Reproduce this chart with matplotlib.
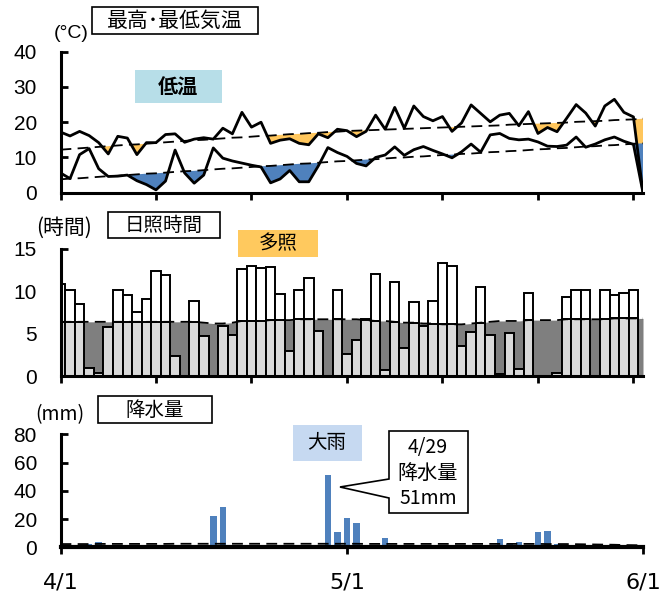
import matplotlib
matplotlib.use("Agg")
import matplotlib.pyplot as plt
from matplotlib.patches import Rectangle, Polygon
from matplotlib.transforms import Affine2D
import numpy as np

plt.rcParams['font.family'] = ['Liberation Sans', 'Noto Sans CJK JP']
JP = ['Noto Sans CJK JP', 'DejaVu Sans']

# 4/1 = day 0 ... 6/1 = day 61
days = np.arange(62)

# 最高気温 / 平年値
tmax = [17.2, 16.1, 17.4, 16.2, 14.2, 11.0, 16.0, 15.5, 10.8, 14.2,
        14.2, 16.5, 16.7, 14.3, 15.2, 15.6, 15.2, 18.3, 16.7, 22.8,
        18.6, 20.0, 14.0, 14.9, 15.3, 14.0, 13.6, 16.7, 15.6, 18.0,
        17.6, 15.9, 17.4, 22.0, 18.0, 24.2, 18.3, 24.6, 21.6, 20.4,
        21.6, 17.4, 19.8, 24.9, 22.5, 20.1, 22.0, 22.5, 19.0, 23.0,
        16.8, 18.5, 17.3, 21.1, 25.0, 22.6, 18.9, 24.6, 26.5, 22.8,
        21.5, 0.0]
tmax_norm = [12.2, 12.4, 12.6, 12.8, 13.0, 13.2, 13.4, 13.6, 13.7, 13.9,
             14.1, 14.3, 14.5, 14.7, 14.9, 15.0, 15.2, 15.4, 15.6, 15.7,
             15.9, 16.1, 16.2, 16.4, 16.6, 16.7, 16.9, 17.0, 17.2, 17.3,
             17.5, 17.6, 17.7, 17.8, 17.9, 18.0, 18.1, 18.2, 18.3, 18.4,
             18.5, 18.6, 18.7, 18.8, 18.9, 19.0, 19.1, 19.3, 19.4, 19.5,
             19.6, 19.7, 19.8, 19.9, 20.1, 20.2, 20.3, 20.4, 20.6, 20.7,
             20.8, 21.0]

# 最低気温 / 平年値
tmin = [5.6, 4.0, 10.8, 12.5, 6.8, 4.6, 4.7, 5.0, 3.4, 2.3,
        0.8, 3.3, 12.1, 5.6, 2.7, 5.0, 12.7, 9.8, 9.0, 8.4,
        7.8, 7.3, 2.8, 3.9, 6.3, 3.1, 3.1, 7.6, 12.8, 11.4,
        10.3, 8.3, 7.6, 10.0, 10.7, 13.0, 10.6, 12.2, 13.1, 12.0,
        11.0, 9.9, 11.6, 13.8, 11.5, 16.4, 16.8, 15.4, 15.0, 15.2,
        14.4, 13.2, 13.1, 13.5, 15.8, 12.9, 13.8, 15.0, 15.8, 14.6,
        13.7, 0.0]
tmin_norm = [3.8, 4.0, 4.1, 4.3, 4.5, 4.7, 4.8, 5.0, 5.2, 5.4,
             5.5, 5.7, 5.9, 6.1, 6.2, 6.4, 6.6, 6.8, 6.9, 7.1,
             7.3, 7.5, 7.6, 7.8, 8.0, 8.2, 8.3, 8.5, 8.7, 8.9,
             9.0, 9.2, 9.4, 9.5, 9.7, 9.9, 10.0, 10.2, 10.3, 10.5,
             10.7, 10.8, 11.0, 11.1, 11.3, 11.5, 11.6, 11.8, 11.9, 12.1,
             12.3, 12.4, 12.6, 12.7, 12.9, 13.1, 13.2, 13.4, 13.5, 13.7,
             13.9, 14.0]

# 日照時間 (4/1-5/31) / 平年値 (4/1-6/1)
sun = [10.9, 10.2, 8.5, 1.0, 0.4, 5.8, 10.2, 9.6, 7.6, 9.1,
       12.4, 11.9, 2.4, 0.0, 8.8, 4.7, 0.0, 5.9, 4.9, 12.6,
       13.0, 12.7, 12.9, 9.7, 2.9, 10.1, 11.6, 5.3, 0.0, 10.1,
       2.6, 4.3, 6.7, 12.0, 0.7, 11.1, 3.3, 8.7, 5.9, 8.9,
       13.3, 13.0, 3.5, 5.2, 10.5, 4.8, 0.2, 5.1, 0.8, 9.8,
       0.0, 0.0, 0.3, 9.3, 10.2, 10.1, 0.0, 10.1, 9.6, 9.8,
       10.1]
sun_norm = [6.4, 6.4, 6.4, 6.4, 6.4, 6.4, 6.4, 6.4, 6.4, 6.4,
            6.4, 6.4, 6.4, 6.4, 6.4, 6.3, 6.2, 6.2, 6.3, 6.5,
            6.5, 6.5, 6.6, 6.6, 6.6, 6.7, 6.7, 6.7, 6.7, 6.7,
            6.7, 6.7, 6.6, 6.5, 6.5, 6.4, 6.3, 6.3, 6.2, 6.2,
            6.1, 6.1, 6.1, 6.2, 6.3, 6.4, 6.5, 6.5, 6.5, 6.6,
            6.6, 6.6, 6.6, 6.7, 6.7, 6.7, 6.7, 6.7, 6.8, 6.8,
            6.8, 6.8]

# 降水量 / 平年値
prcp = [0, 0, 0, 2.3, 3.5, 0, 0, 0, 0, 0,
        0, 0, 0, 0, 0, 0, 22.2, 28.4, 0, 0,
        0, 0, 0, 0, 0, 0, 0, 0, 51.0, 11.1,
        20.5, 17.5, 0, 0, 6.4, 0, 0, 0, 0, 0,
        0, 0, 0, 0, 0, 1.0, 5.7, 2.3, 4.0, 0,
        11.1, 11.6, 2.0, 0, 1.0, 0, 1.0, 0, 0, 0,
        0, 0]
prcp_norm = [2.3, 2.3, 2.3, 2.3, 2.4, 2.4, 2.4, 2.4, 2.4, 2.4,
             2.4, 2.4, 2.5, 2.5, 2.5, 2.5, 2.5, 2.5, 2.5, 2.5,
             2.5, 2.5, 2.5, 2.5, 2.5, 2.5, 2.5, 2.5, 2.5, 2.5,
             2.5, 2.5, 2.4, 2.4, 2.4, 2.4, 2.4, 2.4, 2.4, 2.4,
             2.4, 2.4, 2.4, 2.4, 2.4, 2.4, 2.4, 2.4, 2.4, 2.4,
             2.4, 2.3, 2.3, 2.3, 2.2, 2.1, 2.0, 1.9, 1.8, 1.6,
             1.5, 1.4]

date_ticks = [0, 30, 61]
date_labels = ['4/1', '5/1', '6/1']

W, H = 670, 592
fig = plt.figure(figsize=(W / 100, H / 100), dpi=100)
px = Affine2D().scale(1 / W, -1 / H).translate(0, 1) + fig.transFigure


def add_ax(x0, y0, x1, y1):
    return fig.add_axes([x0 / W, 1 - y1 / H, (x1 - x0) / W, (y1 - y0) / H])


def style(ax):
    for s in ['top', 'right']:
        ax.spines[s].set_visible(False)
    for s in ['left', 'bottom']:
        ax.spines[s].set_linewidth(2.2)
        ax.spines[s].set_zorder(5)
    ax.tick_params(axis='y', direction='in', length=5, width=2, labelsize=15, pad=17)
    ax.tick_params(axis='x', direction='out', length=5, width=2)
    ax.set_xlim(0, 61)


def box(x0, y0, x1, y1, fc, ec='none'):
    fig.patches.append(Rectangle((x0, y0), x1 - x0, y1 - y0, transform=px,
                                 fc=fc, ec=ec, lw=1.2))


def label(x, y, s, size=14, **kw):
    fig.text(x, y, s, transform=px, ha='center', va='center',
             family=JP, fontsize=size, **kw)


dash = (0, (6, 3.5))

# --- 最高・最低気温 ---
ax1 = add_ax(60.5, 51.7, 643, 192.7)
style(ax1)
tx, txn = np.array(tmax), np.array(tmax_norm)
tn, tnn = np.array(tmin), np.array(tmin_norm)
ax1.fill_between(days, tx, txn, where=tx < txn, interpolate=True,
                 color='#ffc65c', lw=0, zorder=1)
ax1.fill_between(days, tn, tnn, where=tn < tnn, interpolate=True,
                 color='#4f81bd', lw=0, zorder=1)
ax1.plot(days, txn, color='black', lw=1.3, ls=dash, zorder=2)
ax1.plot(days, tnn, color='black', lw=1.3, ls=dash, zorder=2)
ax1.plot(days, tx, color='black', lw=2, zorder=3)
ax1.plot(days, tn, color='black', lw=2, zorder=3)
ax1.set_ylim(0, 40)
ax1.set_yticks([0, 10, 20, 30, 40])
ax1.set_xticks(range(0, 61, 10))
ax1.set_xticklabels([])

# --- 日照時間 ---
ax2 = add_ax(60.5, 249, 643, 376)
style(ax2)
sn = np.array(sun_norm)
ax2.fill_between(days, 0, sn, color='#7f7f7f', lw=0, zorder=1)
bd = days[:len(sun)]
ax2.bar(bd, sun, width=1, color='white', edgecolor='black', lw=1.4, zorder=2)
ax2.bar(bd, np.minimum(sun, sn[:len(sun)]), width=1, color='#d9d9d9',
        edgecolor='black', lw=1.4, zorder=2)
ax2.plot(days, sn, color='black', lw=1.3, ls=dash, zorder=3)
ax2.set_ylim(0, 15)
ax2.set_yticks([0, 5, 10, 15])
ax2.set_xticks(range(0, 61, 10))
ax2.set_xticklabels([])

# --- 降水量 ---
ax3 = add_ax(60.5, 434.3, 643, 547.3)
style(ax3)
ax3.spines['bottom'].set_linewidth(3)
ax3.bar(days, prcp, width=0.68, color='#4f81bd', lw=0, zorder=2)
ax3.plot(days, prcp_norm, color='black', lw=1.3, ls=dash, zorder=3)
ax3.set_ylim(0, 80)
ax3.set_yticks([0, 20, 40, 60, 80])
ax3.set_xticks(date_ticks)
ax3.set_xticklabels(date_labels, family=['DejaVu Sans'], fontsize=16)
ax3.tick_params(axis='x', pad=13)

# --- labels ---
fig.text(71, 34, '(°C)', transform=px, ha='center', va='center', fontsize=14)
box(92, 7, 258, 34, 'white', 'black')
label(175, 21, '最高･最低気温', size=15)
box(135, 70, 222, 103, '#b7dee8')
label(178, 87, '低温', size=14.5, weight='bold')

label(64, 228, '(時間)', size=15)
box(108, 212, 220, 238, 'white', 'black')
label(164, 225, '日照時間', size=14)
box(238, 230, 318, 257, '#ffc95e')
label(278, 244, '多照', size=14)

label(60, 415, '(mm)', size=14)
box(98, 396, 212, 423, 'white', 'black')
label(155, 410, '降水量', size=14)
box(293, 425, 362, 461, '#c6d9f1')
label(327, 443, '大雨', size=14)

fig.patches.append(Polygon([(389, 431), (468, 431), (468, 513), (389, 513),
                            (389, 498), (340, 487), (389, 479)], closed=True,
                           transform=px, fc='white', ec='black', lw=1.2))
label(428, 447, '4/29', size=14)
label(428, 473, '降水量', size=14.5)
label(428, 498, '51mm', size=14)

fig.savefig('out.png', dpi=100)
